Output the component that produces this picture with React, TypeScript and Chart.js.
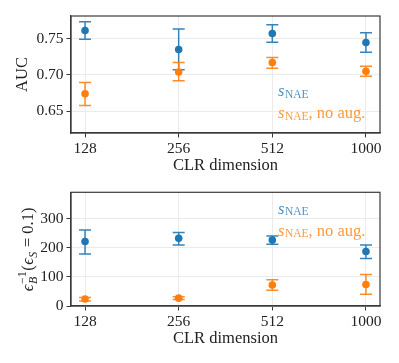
import React, { useEffect, useRef } from 'react';
import { Chart, registerables } from 'chart.js';

Chart.register(...registerables);

// ---- data ----
const categories = ['128', '256', '512', '1000'];
const legendMain = 's';
const legendSub = 'NAE';
const legendSuffix = ['', ', no aug.'];
const xTitle = 'CLR dimension';
const aucTitle = 'AUC';

const aucAug = [0.761, 0.735, 0.757, 0.7445];
const aucAugLow = [0.749, 0.707, 0.745, 0.731];
const aucAugHigh = [0.773, 0.763, 0.769, 0.758];
const aucNoAug = [0.674, 0.704, 0.717, 0.705];
const aucNoAugLow = [0.658, 0.692, 0.709, 0.698];
const aucNoAugHigh = [0.6895, 0.717, 0.724, 0.712];
const aucTicks = [0.65, 0.7, 0.75];

const epsAug = [221, 232, 226, 187];
const epsAugLow = [178, 209, 212, 163];
const epsAugHigh = [261, 252, 240, 209];
const epsNoAug = [24, 27, 72, 74];
const epsNoAugLow = [17, 22, 54, 40];
const epsNoAugHigh = [29, 32, 90, 108];
const epsTicks = [0, 100, 200, 300];

// ---- styles ----
const BLUE = '#1f77b4';
const ORANGE = '#ff7f0e';
const BLUE_ERR = 'rgba(31,119,180,0.9)';
const ORANGE_ERR = 'rgba(255,127,14,0.9)';
const BLUE_TXT = 'rgba(31,119,180,0.8)';
const ORANGE_TXT = 'rgba(255,127,14,0.8)';
const SPINE = '#3a3a3a';
const GRID = '#ebebeb';
const FONT = "'Liberation Serif', 'DejaVu Serif', serif";
const FS = 15.5;
const FT = 16.5;

const errorBars = {
  id: 'errorBars',
  beforeDatasetsDraw(chart: any) {
    const { ctx, scales } = chart;
    const x = scales.x, y = scales.y;
    chart.data.datasets.forEach((ds: any) => {
      ctx.save();
      ctx.strokeStyle = ds.errColor;
      ctx.lineWidth = 1.5;
      ds.data.forEach((p: any, i: number) => {
        const px = x.getPixelForValue(p.x);
        const yl = y.getPixelForValue(ds.low[i]);
        const yh = y.getPixelForValue(ds.high[i]);
        ctx.beginPath();
        ctx.moveTo(px, yl); ctx.lineTo(px, yh);
        ctx.moveTo(px - 6, yl); ctx.lineTo(px + 6, yl);
        ctx.moveTo(px - 6, yh); ctx.lineTo(px + 6, yh);
        ctx.stroke();
      });
      ctx.restore();
    });
  },
};

const frame = {
  id: 'frame',
  afterDraw(chart: any) {
    const { ctx, chartArea: a } = chart;
    ctx.save();
    ctx.strokeStyle = SPINE;
    ctx.lineWidth = 1.2;
    ctx.strokeRect(a.left, a.top, a.right - a.left, a.bottom - a.top);
    ctx.restore();
  },
};

const legendText = {
  id: 'legendText',
  afterDraw(chart: any, _args: any, opts: any) {
    const { ctx, chartArea: a } = chart;
    const x0 = a.left + opts.fx * (a.right - a.left);
    const colors = [BLUE_TXT, ORANGE_TXT];
    legendSuffix.forEach((suf, i) => {
      const yb = a.top + opts.fy[i] * (a.bottom - a.top);
      ctx.save();
      ctx.fillStyle = colors[i];
      ctx.textBaseline = 'alphabetic';
      ctx.textAlign = 'left';
      let x = x0;
      ctx.font = `italic ${FT}px ${FONT}`;
      ctx.fillText(legendMain, x, yb);
      x += ctx.measureText(legendMain).width + 0.5;
      ctx.font = `11.5px ${FONT}`;
      ctx.fillText(legendSub, x, yb + 1.5);
      x += ctx.measureText(legendSub).width;
      if (suf) {
        ctx.font = `${FT}px ${FONT}`;
        ctx.fillText(suf, x, yb);
      }
      ctx.restore();
    });
  },
};

const epsTitle = {
  id: 'epsTitle',
  afterDraw(chart: any) {
    const { ctx, chartArea: a } = chart;
    const cy = (a.top + a.bottom) / 2;
    const bx = 33;
    type Seg = { t: string; f: string; dy: number; sup?: string };
    const segs: Seg[] = [
      { t: '\u03F5', f: `italic ${FT}px ${FONT}`, dy: 0 },
      { t: 'B', f: `italic 12px ${FONT}`, dy: 3.5, sup: '\u22121' },
      { t: '(', f: `${FT}px ${FONT}`, dy: 0 },
      { t: '\u03F5', f: `italic ${FT}px ${FONT}`, dy: 0 },
      { t: 'S', f: `italic 12px ${FONT}`, dy: 3.5 },
      { t: ' = 0.1)', f: `${FT}px ${FONT}`, dy: 0 },
    ];
    ctx.save();
    const widths = segs.map((s) => {
      ctx.font = s.f;
      let w = ctx.measureText(s.t).width;
      if (s.sup) {
        ctx.font = `12px ${FONT}`;
        w = Math.max(w, ctx.measureText(s.sup).width);
      }
      return w + 0.5;
    });
    const total = widths.reduce((p, c) => p + c, 0);
    ctx.translate(bx, cy);
    ctx.rotate(-Math.PI / 2);
    ctx.fillStyle = '#222';
    ctx.textBaseline = 'alphabetic';
    ctx.textAlign = 'left';
    let x = -total / 2;
    segs.forEach((s, i) => {
      ctx.font = s.f;
      ctx.fillText(s.t, x, s.dy);
      if (s.sup) {
        ctx.font = `12px ${FONT}`;
        ctx.fillText(s.sup, x, -7);
      }
      x += widths[i];
    });
    ctx.restore();
  },
};

function makeConfig(p: {
  a: number[]; aLow: number[]; aHigh: number[];
  b: number[]; bLow: number[]; bHigh: number[];
  yMin: number; yMax: number; yTicks: number[]; fmt: (v: number) => string;
  padTop: number; xHeight: number; xTitlePad: number;
  yTitle: string | null; legendFy: number[]; extra: any[];
}) {
  const pts = (vals: number[]) => vals.map((v, i) => ({ x: i, y: v }));
  return {
    type: 'scatter' as const,
    data: {
      datasets: [
        {
          data: pts(p.a), low: p.aLow, high: p.aHigh, errColor: BLUE_ERR,
          backgroundColor: BLUE, borderColor: BLUE, pointRadius: 3.8, borderWidth: 0,
        },
        {
          data: pts(p.b), low: p.bLow, high: p.bHigh, errColor: ORANGE_ERR,
          backgroundColor: ORANGE, borderColor: ORANGE, pointRadius: 3.8, borderWidth: 0,
        },
      ] as any[],
    },
    options: {
      animation: false,
      responsive: false,
      devicePixelRatio: 1,
      layout: { padding: { left: 0, right: 19, top: p.padTop, bottom: 0 } },
      plugins: {
        legend: { display: false },
        tooltip: { enabled: false },
        legendText: { fx: 0.67, fy: p.legendFy },
      },
      scales: {
        x: {
          type: 'linear',
          min: -0.15,
          max: 3.15,
          afterBuildTicks: (s: any) => { s.ticks = categories.map((_, i) => ({ value: i })); },
          afterFit: (s: any) => { s.height = p.xHeight; },
          ticks: {
            callback: (v: any) => categories[Math.round(v)],
            color: '#222',
            font: { family: FONT, size: FS },
            padding: 2,
            maxRotation: 0,
          },
          grid: { color: GRID, tickColor: SPINE, tickLength: 4.5, lineWidth: 1 },
          border: { color: SPINE, width: 1.2 },
          title: {
            display: true, text: xTitle, color: '#222',
            font: { family: FONT, size: FT }, padding: { top: 0, bottom: p.xTitlePad },
          },
        },
        y: {
          type: 'linear',
          min: p.yMin,
          max: p.yMax,
          afterBuildTicks: (s: any) => { s.ticks = p.yTicks.map((v) => ({ value: v })); },
          afterFit: (s: any) => { s.width = 71; },
          ticks: {
            callback: (v: any) => p.fmt(v),
            color: '#222',
            font: { family: FONT, size: FS },
            padding: 3,
          },
          grid: { color: GRID, tickColor: SPINE, tickLength: 4.5, lineWidth: 1 },
          border: { color: SPINE, width: 1.2 },
          title: {
            display: !!p.yTitle, text: p.yTitle || '', color: '#222',
            font: { family: FONT, size: FT }, padding: { top: 13, bottom: 0 },
          },
        },
      },
    },
    plugins: [errorBars, frame, legendText, ...p.extra],
  };
}

export default function App() {
  const topRef = useRef<HTMLCanvasElement>(null);
  const botRef = useRef<HTMLCanvasElement>(null);

  useEffect(() => {
    const c1 = new Chart(topRef.current as HTMLCanvasElement, makeConfig({
      a: aucAug, aLow: aucAugLow, aHigh: aucAugHigh,
      b: aucNoAug, bLow: aucNoAugLow, bHigh: aucNoAugHigh,
      yMin: 0.62, yMax: 0.781, yTicks: aucTicks, fmt: (v) => v.toFixed(2),
      padTop: 16, xHeight: 47, xTitlePad: 4.5, yTitle: aucTitle,
      legendFy: [0.684, 0.872], extra: [],
    }) as any);
    const c2 = new Chart(botRef.current as HTMLCanvasElement, makeConfig({
      a: epsAug, aLow: epsAugLow, aHigh: epsAugHigh,
      b: epsNoAug, bLow: epsNoAugLow, bHigh: epsNoAugHigh,
      yMin: 0, yMax: 390, yTicks: epsTicks, fmt: (v) => String(v),
      padTop: 10, xHeight: 57, xTitlePad: 14.5, yTitle: null,
      legendFy: [0.19, 0.38], extra: [epsTitle],
    }) as any);
    return () => { c1.destroy(); c2.destroy(); };
  }, []);

  return (
    <div style={{ position: 'fixed', left: 0, top: 0, width: 399, height: 363, background: '#fff' }}>
      <canvas ref={topRef} width={399} height={180} style={{ display: 'block', width: 399, height: 180 }} />
      <canvas ref={botRef} width={399} height={183} style={{ display: 'block', width: 399, height: 183 }} />
    </div>
  );
}
